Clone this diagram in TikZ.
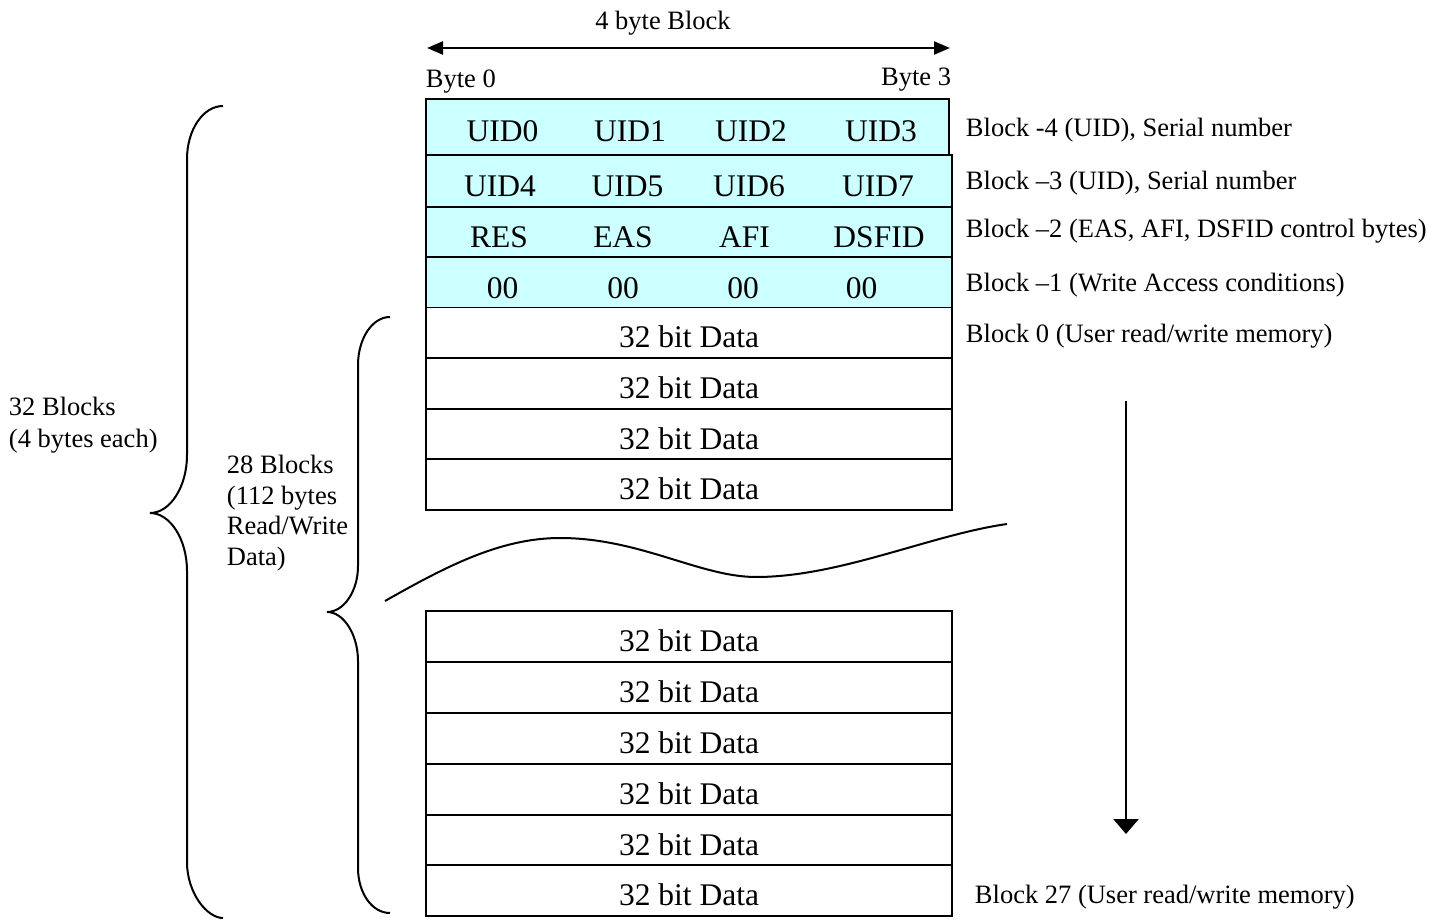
\documentclass[tikz,border=0pt]{standalone}
\usepackage{fontspec}
\setmainfont{Liberation Serif}
\usetikzlibrary{positioning,arrows.meta}
\definecolor{uidcyan}{RGB}{204,255,255}

\tikzset{
  uidrow/.style={draw,fill=uidcyan,minimum width=526pt,minimum height=51pt},
  datarow/.style={draw,minimum width=526pt,minimum height=51pt,font=\fontsize{31.5}{38}\selectfont,text height=30pt,text depth=0pt},
  cell/.style={font=\fontsize{31.5}{38}\selectfont,text height=29pt,text depth=0pt},
  sidelbl/.style={font=\fontsize{26.5}{31}\selectfont,anchor=base west},
  brace/.style={line width=2pt},
}

\begin{document}
\begin{tikzpicture}[x=1pt,y=-1pt,inner sep=0pt,line width=1.9pt]
\useasboundingbox (0,0) rectangle (1444,920);

% block width
\coordinate (bl) at (427,48);
\coordinate (br) at (950,48);
\draw[line width=2.4pt,{Triangle[length=16pt,width=13pt]}-{Triangle[length=16pt,width=13pt]}] (bl) -- (br);
\node[sidelbl,anchor=base] (wid) at (663,29.5) {4 byte Block};
\node[sidelbl] (b0) at (425,88) {Byte 0};
\node[sidelbl,anchor=base east] (b3) at (952,86) {Byte 3};

% UID and control blocks
\node[uidrow,minimum width=523pt,minimum height=56pt] (r1) at (687.5,127) {};
\node[uidrow,minimum height=52pt] (r2) at (689,181) {};
\node[uidrow,minimum height=50pt] (r3) at (689,232) {};
\node[uidrow,minimum height=50.5pt] (r4) at (689,282.25) {};

\foreach \x/\t [count=\i] in {502.5/UID0,630/UID1,751/UID2,881/UID3}
  \node[cell] (ua\i) at (\x,127) {\t};
\foreach \x/\t [count=\i] in {500/UID4,627.5/UID5,749/UID6,878/UID7}
  \node[cell] (ub\i) at (\x,182) {\t};
\foreach \x/\t [count=\i] in {499/RES,623/EAS,744.5/AFI,879/DSFID}
  \node[cell] (uc\i) at (\x,233.5) {\t};
\foreach \x [count=\i] in {502.5,623,743,861.5}
  \node[cell] (ud\i) at (\x,284) {00};

% user data blocks
\foreach \y [count=\i] in {333,383.5,434,484.75}
  \node[datarow] (d\i) at (689,\y) {32 bit Data};
\foreach \y [count=\i from 5] in {636.75,687.5,738.5,789.5,840,890.25}
  \node[datarow] (d\i) at (689,\y) {32 bit Data};

% block names
\node[sidelbl] (l1) at (965,137) {Block -4 (UID), Serial number};
\node[sidelbl] (l2) at (965,190) {Block \textendash3 (UID), Serial number};
\node[sidelbl] (l3) at (965,238) {Block \textendash2 (EAS, AFI, DSFID control bytes)};
\node[sidelbl] (l4) at (965,292) {Block \textendash1 (Write Access conditions)};
\node[sidelbl] (l5) at (965,342) {Block 0 (User read/write memory)};
\node[sidelbl] (l6) at (974,903) {Block 27 (User read/write memory)};

% braces
\draw[brace] (223,106) .. controls (203,106) and (187,130) .. (187,159) -- (187,455)
  .. controls (187,487) and (170,513) .. (150,513) .. controls (170,513) and (187,539) .. (187,571)
  -- (187,862) .. controls (187,893) and (207,918) .. (223,918);
\draw[brace] (390,317) .. controls (372,317) and (358,339) .. (358,365) -- (358,566)
  .. controls (358,591) and (344,612) .. (327,612) .. controls (344,612) and (358,635) .. (358,661)
  -- (358,868) .. controls (358,893) and (372,913) .. (390,913);
\node[font=\fontsize{26.5}{32}\selectfont,align=left,anchor=north west] (all) at (8,396) {32 Blocks\\(4 bytes each)};
\node[font=\fontsize{26.5}{30.7}\selectfont,align=left,anchor=north west] (usr) at (226,454) {28 Blocks\\(112 bytes\\Read/Write\\Data)};

% gap
\draw[brace] (385,601) .. controls (445,567) and (500,538) .. (560,538)
  .. controls (640,538) and (700,577) .. (756,577)
  .. controls (840,577) and (930,535) .. (1007,524);

% direction
\coordinate (dtop) at (1126,401);
\coordinate (dbot) at (1126,834);
\draw[line width=2.6pt,-{Triangle[length=15pt,width=25pt]}] (dtop) -- (dbot);
\end{tikzpicture}
\end{document}
